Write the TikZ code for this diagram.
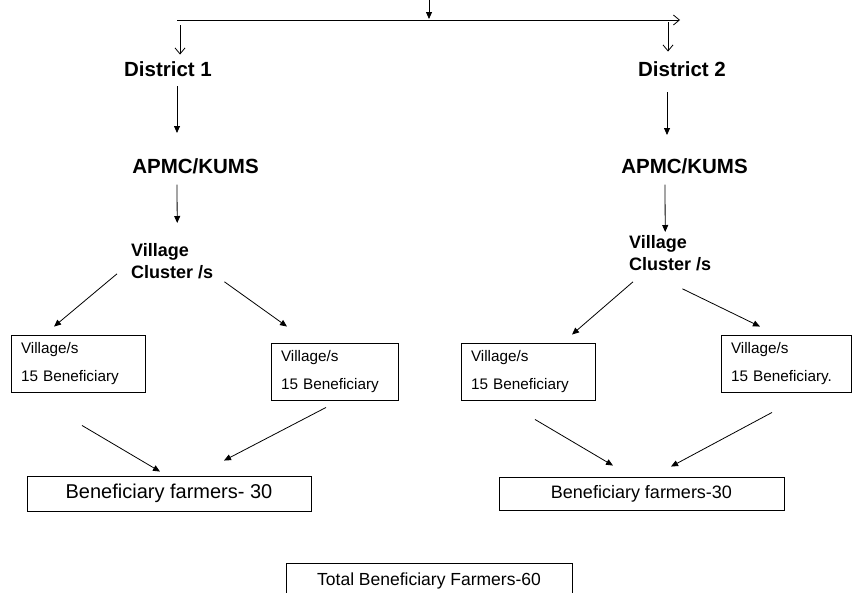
\documentclass[tikz,border=0pt]{standalone}
\usepackage{fontspec}
\setmainfont{Liberation Sans}
\usetikzlibrary{arrows.meta,calc}
\tikzset{
  lbl/.style={inner sep=0pt, font=\fontsize{20.5}{24}\selectfont\bfseries},
  clus/.style={inner sep=0pt, align=left, font=\fontsize{18}{22}\selectfont\bfseries},
  vbox/.style={draw, line width=0.9pt, align=left, inner xsep=10pt, minimum height=57pt, font=\fontsize{15.3}{28}\selectfont},
  bbox/.style={draw, line width=0.9pt, inner sep=0pt},
  arr/.style={line width=0.8pt, -{Triangle[length=7pt,width=6pt]}},
  oarr/.style={line width=0.8pt, -{Straight Barb[length=6pt,width=10pt]}},
}
\begin{document}
\begin{tikzpicture}[x=1pt,y=-1pt]
\useasboundingbox (0,0) rectangle (853,592);
\clip (0,0) rectangle (853,592);
% text nodes
\node[lbl, anchor=south] (d1) at (168,77) {District 1};
\node[lbl, anchor=south] (d2) at (682,77) {District 2};
\node[lbl, anchor=north] (a1) at (195.5,158) {APMC/KUMS};
\node[lbl, anchor=north] (a2) at (684.5,158) {APMC/KUMS};
\node[clus, anchor=north west] (c1) at (131,243) {Village\\Cluster /s};
\node[clus, anchor=north west] (c2) at (629,235) {Village\\Cluster /s};
% village boxes
\node[vbox, text width=114pt] (v1) at (78,363.5) {Village/s\\15 Beneficiary};
\node[vbox, text width=107pt] (v2) at (334.5,371.5) {Village/s\\15 Beneficiary};
\node[vbox, text width=114pt] (v3) at (528,371.5) {Village/s\\15 Beneficiary};
\node[vbox, text width=110pt] (v4) at (786,363.5) {Village/s\\15 Beneficiary.};
% beneficiary boxes
\node[bbox, minimum width=284pt, minimum height=35pt, font=\fontsize{20}{24}\selectfont] (b1) at (169,493.5) {Beneficiary farmers- 30};
\node[bbox, minimum width=285pt, minimum height=33pt, font=\fontsize{18}{22}\selectfont] (b2) at (641.5,493.5) {Beneficiary farmers-30};
\node[bbox, minimum width=286pt, minimum height=35pt, font=\fontsize{17.5}{21}\selectfont, anchor=north] (t) at (429,563) {Total Beneficiary Farmers-60};
% top connector
\coordinate (top) at (429,0);
\coordinate (hl) at (177,20);
\coordinate (hr) at (680,20);
\draw[arr] (top) -- ($(top |- hl)+(0,-1)$);
\draw[oarr] (hl) -- (hr);
\draw[oarr] ($(hl)+(3,5)$) -- ($(d1.north)+(12,-7)$);
\draw[oarr] ($(hr)+(-12,2)$) -- ($(d2.north)+(-14,-10)$);
% vertical chain
\draw[arr] ($(d1.south)+(9,9)$) -- ($(a1.north)+(-18.5,-25)$);
\draw[arr] ($(a1.south)+(-18.5,11)$) -- ($(c1.north)+(5,-20)$);
\draw[arr] ($(d2.south)+(-15,15)$) -- ($(a2.north)+(-17.5,-23)$);
\draw[arr] ($(a2.south)+(-19.5,11)$) -- ($(c2.north)+(-5,-3)$);
% cluster to villages
\draw[arr] ($(c1.south west)+(-14,-5)$) -- ($(v1.north)+(-24,-8)$);
\draw[arr] ($(c1.south east)+(11,3)$) -- ($(v2.north)+(-47.5,-16)$);
\draw[arr] ($(c2.south west)+(4,11)$) -- ($(v3.north)+(44,-8)$);
\draw[arr] ($(c2.south east)+(-29,18)$) -- ($(v4.north)+(-26,-8)$);
% villages to beneficiaries
\draw[arr] ($(v1.south)+(4,33)$) -- ($(b1.north)+(-9,-4)$);
\draw[arr] ($(v2.south)+(-8.5,7)$) -- ($(b1.north)+(55,-15)$);
\draw[arr] ($(v3.south)+(7,19)$) -- ($(b2.north)+(-28.5,-11)$);
\draw[arr] ($(v4.south)+(-14,20)$) -- ($(b2.north)+(29.5,-10)$);
\end{tikzpicture}
\end{document}
